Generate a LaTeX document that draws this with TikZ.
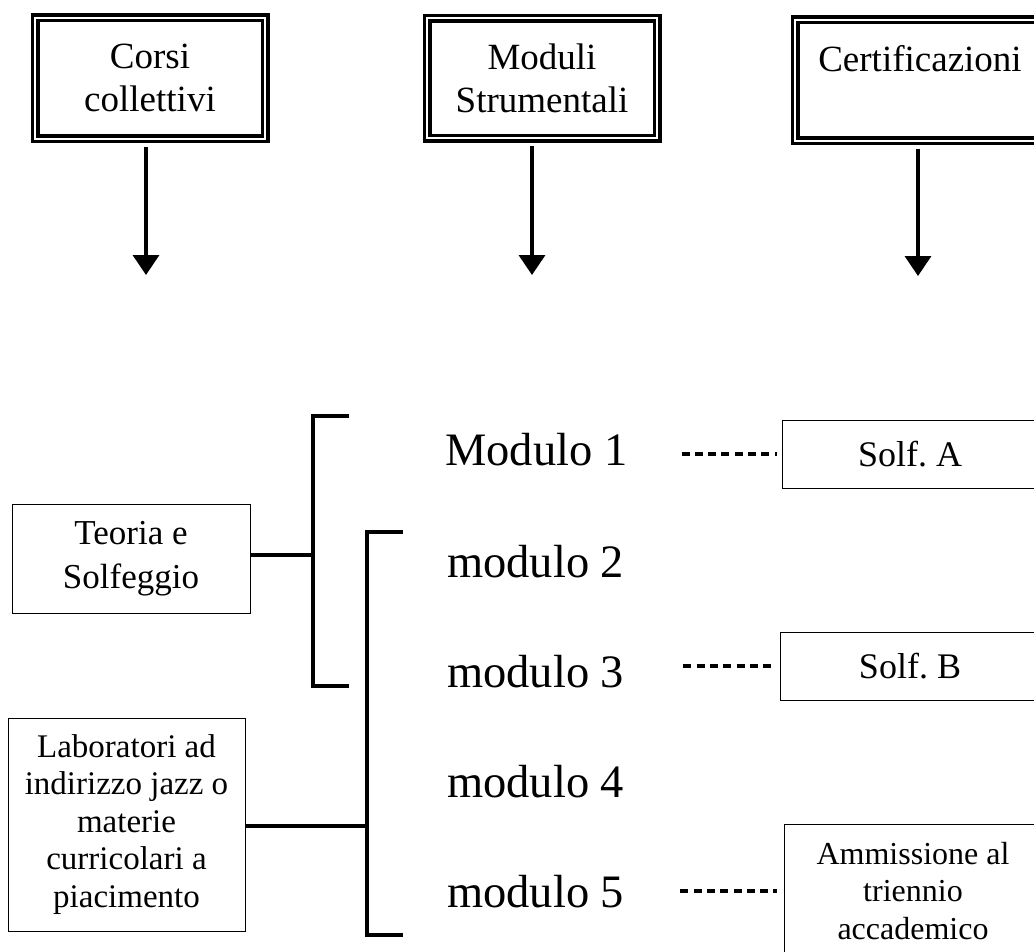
\documentclass[tikz,border=0pt]{standalone}
\usepackage{fontspec}
\setmainfont{Liberation Serif}
\usetikzlibrary{arrows.meta}

\begin{document}
\begin{tikzpicture}[x=1pt, y=-1pt,
    header/.style={draw, double, line width=3.5pt, double distance=2pt, minimum width=230pt, minimum height=121pt, align=center, inner sep=0pt, font=\fontsize{37}{43}\selectfont},
    box/.style={draw, line width=0.9pt, align=center, inner sep=0pt},
    modtext/.style={anchor=base west, inner sep=0pt, font=\fontsize{46.5}{50}\selectfont},
    down/.style={-{Triangle[width=26pt,length=20pt]}, line width=3.5pt, shorten <=6.5pt},
    brk/.style={line width=3.5pt},
    dots/.style={line width=3.5pt, dash pattern=on 8pt off 5.3pt}]
    \useasboundingbox (0,0) rectangle (1034,951);

    \node[header] (corsi) at (150,78) {Corsi\\collettivi};
    \node[header, minimum height=120pt] (moduli) at (542,78) {Moduli\\Strumentali};
    \node[header, minimum width=250pt] (cert) at (920,80) {Certificazioni\\\mbox{}};

    \coordinate (a1) at (146,275);
    \coordinate (a2) at (532,275);
    \coordinate (a3) at (918,276);
    \draw[down] (corsi.south -| a1) -- (a1);
    \draw[down] (moduli.south -| a2) -- (a2);
    \draw[down] (cert.south -| a3) -- (a3);

    \node[box, minimum width=238pt, minimum height=109pt, font=\fontsize{35}{44}\selectfont] (teoria) at (131,558.5) {Teoria e\\Solfeggio};
    \node[box, minimum width=237pt, minimum height=213pt, font=\fontsize{33}{37.5}\selectfont] (lab) at (126.5,824.5) {Laboratori ad\\indirizzo jazz o\\materie\\curricolari a\\piacimento};

    \node[modtext] (m1) at (445,465) {Modulo 1};
    \node[modtext] (m2) at (447,577) {modulo 2};
    \node[modtext] (m3) at (447,687) {modulo 3};
    \node[modtext] (m4) at (447,797) {modulo 4};
    \node[modtext] (m5) at (447,907) {modulo 5};

    \node[box, minimum width=256pt, minimum height=68pt, font=\fontsize{36}{40}\selectfont] (solfA) at (910,454) {Solf.\ A};
    \node[box, minimum width=260pt, minimum height=68pt, font=\fontsize{36}{40}\selectfont] (solfB) at (910,666) {Solf.\ B};
    \node[box, minimum width=258pt, minimum height=134pt, font=\fontsize{32}{37.5}\selectfont] (ammiss) at (913,891) {Ammissione al\\triennio\\accademico};

    % brackets
    \coordinate (b1top) at (349,416);
    \coordinate (b1mid) at (313,555);
    \coordinate (b1bot) at (349,686);
    \coordinate (b2top) at (403,532);
    \coordinate (b2mid) at (367,826);
    \coordinate (b2bot) at (403,935);
    \draw[brk] (b1top) -- ++(-36,0) |- (b1bot);
    \draw[brk] (b2top) -- ++(-36,0) |- (b2bot);
    \draw[brk] (teoria.east |- b1mid) -- (b1mid);
    \draw[brk] (lab.east |- b2mid) -- (b2mid);

    \draw[dots, shorten <=54pt, shorten >=5pt] (m1.east |- solfA.west) -- (solfA.west);
    \draw[dots, shorten <=59pt, shorten >=7pt] (m3.east |- solfB.west) -- (solfB.west);
    \draw[dots, shorten <=56pt, shorten >=7pt] (m5.east |- ammiss.west) -- (ammiss.west);
\end{tikzpicture}
\end{document}
